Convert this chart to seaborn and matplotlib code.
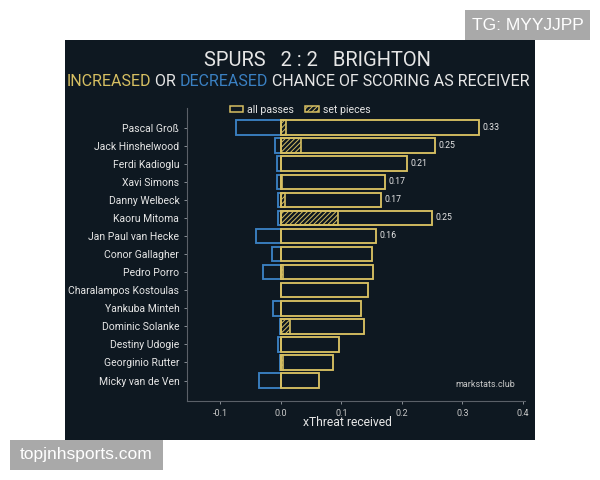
import matplotlib
matplotlib.use("Agg")
import matplotlib.pyplot as plt
import seaborn as sns
import pandas as pd
from matplotlib.patches import Patch, Rectangle

players = ["Pascal Groß", "Jack Hinshelwood", "Ferdi Kadioglu", "Xavi Simons", "Danny Welbeck",
           "Kaoru Mitoma", "Jan Paul van Hecke", "Conor Gallagher", "Pedro Porro",
           "Charalampos Kostoulas", "Yankuba Minteh", "Dominic Solanke", "Destiny Udogie",
           "Georginio Rutter", "Micky van de Ven"]
all_passes = [0.327, 0.254, 0.209, 0.172, 0.166, 0.250, 0.157, 0.151, 0.152, 0.144, 0.132, 0.137, 0.096, 0.087, 0.063]
set_pieces = [0.009, 0.033, 0.0, 0.002, 0.007, 0.095, 0.0, 0.0, 0.004, 0.0, 0.0, 0.015, 0.0, 0.004, 0.0]
decreased = [-0.074, -0.009, -0.006, -0.006, -0.004, -0.004, -0.040, -0.015, -0.029, 0.0, -0.012, -0.001, -0.004, -0.001, -0.036]
value_labels = ["0.33", "0.25", "0.21", "0.17", "0.17", "0.25", "0.16", "", "", "", "", "", "", "", ""]
x_ticks = [-0.1, 0.0, 0.1, 0.2, 0.3, 0.4]

BG = "#0e1821"
YEL = "#d6bf62"
BLUE = "#3a80c2"
TXT = "#e6e6e6"
GRAY = "#9aa0a6"

plt.rcParams["font.family"] = ["Roboto", "DejaVu Sans"]
plt.rcParams["hatch.linewidth"] = 0.7

df = pd.DataFrame({"player": players, "all": all_passes, "sp": set_pieces, "neg": decreased})

fig = plt.figure(figsize=(6, 4.8), dpi=100)
fig.patch.set_facecolor("white")
# dark panel
fig.add_artist(Rectangle((65 / 600, 1 - 440 / 480), 470 / 600, 400 / 480,
                         transform=fig.transFigure, facecolor=BG, edgecolor="none", zorder=0))

ax = fig.add_axes([187 / 600, 1 - 401 / 480, 338 / 600, 293 / 480])
ax.set_facecolor(BG)

W = 0.8
sns.barplot(data=df, x="neg", y="player", order=players, orient="h", fill=False, color=BLUE,
            width=W, linewidth=1.35, errorbar=None, saturation=1, ax=ax)
n0 = len(ax.patches)
sns.barplot(data=df, x="sp", y="player", order=players, orient="h", color=BG,
            width=W, linewidth=1.2, errorbar=None, saturation=1, ax=ax)
for p in ax.patches[n0:]:
    p.set_edgecolor(YEL)
    p.set_hatch("///////")
sns.barplot(data=df, x="all", y="player", order=players, orient="h", fill=False, color=YEL,
            width=W, linewidth=1.35, errorbar=None, saturation=1, ax=ax)

for i, (v, lab) in enumerate(zip(all_passes, value_labels)):
    if lab:
        ax.text(v + 0.006, i, lab, color=TXT, fontsize=6.3, va="center", ha="left")

ax.set_xlim(-0.1547, 0.4033)
ax.set_ylim(15.13, -1.08)
ax.set_xticks(x_ticks)
ax.set_xticklabels([f"{t:.1f}" for t in x_ticks])
ax.tick_params(axis="x", colors=GRAY, labelsize=6.5, length=2, width=0.6, labelcolor="#c8c8c8")
ax.tick_params(axis="y", colors=GRAY, labelsize=7.5, length=2, width=0.6, labelcolor=TXT)
for s in ["top", "right"]:
    ax.spines[s].set_visible(False)
for s in ["left", "bottom"]:
    ax.spines[s].set_color("#5a6068")
    ax.spines[s].set_linewidth(0.8)
ax.set_ylabel("")
ax.set_xlabel("xThreat received", color=TXT, fontsize=8.7)
ax.xaxis.set_label_coords((347 - 187) / 338, -(423 - 401) / 293)
ax.xaxis.label.set_va("center")
ax.text(0.97, 0.055, "markstats.club", transform=ax.transAxes, ha="right", va="center",
        color="#c8c8c8", fontsize=6.5)

# legend
handles = [Patch(facecolor="none", edgecolor=YEL, linewidth=1.1, label="all passes"),
           Patch(facecolor=BG, edgecolor=YEL, hatch="///////", linewidth=1.1, label="set pieces")]
leg = fig.legend(handles=handles, loc="center", bbox_to_anchor=(300 / 600, 1 - 110 / 480), ncol=2,
                 frameon=False, fontsize=7.6, labelcolor=TXT, handlelength=1.3, handleheight=0.55,
                 handletextpad=0.4, columnspacing=1.0)

# titles
fig.text(317 / 600, 1 - 60 / 480, "SPURS   2 : 2   BRIGHTON", ha="center", va="center", color=TXT, fontsize=14.5)

segments = [("INCREASED", YEL), (" OR ", TXT), ("DECREASED", BLUE), (" CHANCE OF SCORING AS RECEIVER", TXT)]
fig.canvas.draw()
r = fig.canvas.get_renderer()
texts = []
for s, c in segments:
    t = fig.text(0, 1 - 82 / 480, s, ha="left", va="center", color=c, fontsize=11.5)
    texts.append(t)
widths = [t.get_window_extent(r).width for t in texts]
total = sum(widths)
x = 298 - total / 2
for t, w in zip(texts, widths):
    t.set_x(x / 600)
    x += w

# watermarks
fig.add_artist(Rectangle((465 / 600, 1 - 40 / 480), 125 / 600, 30 / 480, transform=fig.transFigure,
                         facecolor="#a9a9a9", edgecolor="none", zorder=5))
fig.text(527.5 / 600, 1 - 25 / 480, "TG: MYYJJPP", ha="center", va="center", color="white",
         fontsize=12.5, family=["Liberation Sans", "DejaVu Sans"], zorder=6)
fig.add_artist(Rectangle((10 / 600, 1 - 470 / 480), 153 / 600, 30 / 480, transform=fig.transFigure,
                         facecolor="#a9a9a9", edgecolor="none", zorder=5))
fig.text(86.5 / 600, 1 - 455 / 480, "topjnhsports.com", ha="center", va="center", color="white",
         fontsize=12.5, family=["Liberation Sans", "DejaVu Sans"], zorder=6)

fig.savefig("out.png", dpi=100, facecolor="white")
